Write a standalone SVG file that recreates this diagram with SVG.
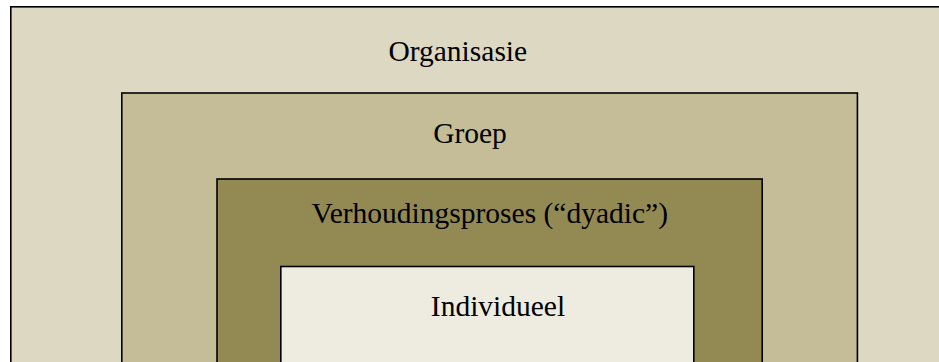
<svg xmlns="http://www.w3.org/2000/svg" width="939" height="362" viewBox="0 0 939 362">
  <style>
    .box { stroke: #000; stroke-width: 1.6; }
    .lbl { font-family: "Liberation Serif", "Times New Roman", serif; font-size: 29.5px; fill: #000; text-anchor: middle; }
  </style>
  <rect x="0" y="0" width="939" height="362" fill="#ffffff"/>
  <g id="organisasie">
    <rect class="box" x="10.8" y="6.8" width="940" height="370" fill="#DDD8C2"/>
    <text class="lbl" x="457.8" y="61">Organisasie</text>
  </g>
  <g id="groep">
    <rect class="box" x="121.8" y="93" width="735.6" height="290" fill="#C4BD97"/>
    <text class="lbl" x="470" y="143">Groep</text>
  </g>
  <g id="verhoudingsproses">
    <rect class="box" x="217" y="179" width="545.2" height="200" fill="#938953"/>
    <text class="lbl" x="489.8" y="223">Verhoudingsproses (“dyadic”)</text>
  </g>
  <g id="individueel">
    <rect class="box" x="280.8" y="266.5" width="413" height="120" fill="#EEECE1"/>
    <text class="lbl" x="498" y="316">Individueel</text>
  </g>
  <g id="connectors"/>
</svg>
